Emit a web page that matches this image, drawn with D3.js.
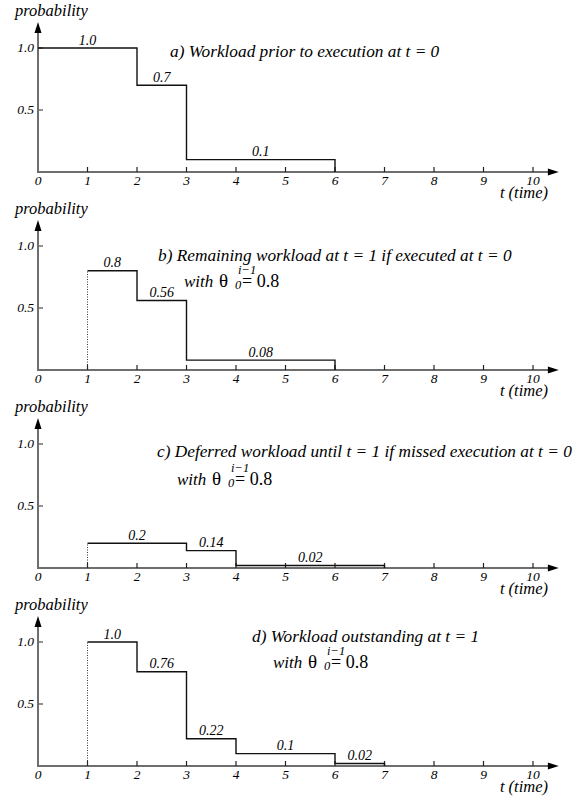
<!DOCTYPE html>
<html><head><meta charset="utf-8">
<script src="https://cdn.jsdelivr.net/npm/d3@7"></script>
<style>
html,body{margin:0;padding:0;background:#fff;}
svg text{font-family:"Liberation Serif" !important;}
</style>
</head><body>
<svg id="stepfig" width="579" height="801"></svg>
<script>
// ---- data ----
const xTicks = [0,1,2,3,4,5,6,7,8,9,10];
const xTickLabels = ["0","1","2","3","4","5","6","7","8","9","10"];
const yTicks = [0.5, 1.0];
const yTickLabels = ["0.5","1.0"];

const aStarts = [0,2,3];
const aEnds   = [2,3,6];
const aValues = [1.0,0.7,0.1];
const aLabels = ["1.0","0.7","0.1"];

const bStarts = [1,2,3];
const bEnds   = [2,3,6];
const bValues = [0.8,0.56,0.08];
const bLabels = ["0.8","0.56","0.08"];

const cStarts = [1,3,4];
const cEnds   = [3,4,7];
const cValues = [0.2,0.14,0.02];
const cLabels = ["0.2","0.14","0.02"];

const dStarts = [1,2,3,4,6];
const dEnds   = [2,3,4,6,7];
const dValues = [1.0,0.76,0.22,0.1,0.02];
const dLabels = ["1.0","0.76","0.22","0.1","0.02"];

const titles = [
  "a) Workload prior to execution at t = 0",
  "b) Remaining workload at t = 1 if executed at t = 0",
  "c) Deferred workload until t = 1 if missed execution at t = 0",
  "d) Workload outstanding at t = 1"
];
const theta = 0.8;

// ---- layout ----
const FONT = "Liberation Serif";
const panels = [
  {starts:aStarts, ends:aEnds, values:aValues, labels:aLabels, title:titles[0], tx:170, ty:9,  wx:null, wy:null, dotted:false},
  {starts:bStarts, ends:bEnds, values:bValues, labels:bLabels, title:titles[1], tx:158, ty:15, wx:184, wy:41, dotted:true},
  {starts:cStarts, ends:cEnds, values:cValues, labels:cLabels, title:titles[2], tx:157, ty:13, wx:177, wy:41, dotted:true},
  {starts:dStarts, ends:dEnds, values:dValues, labels:dLabels, title:titles[3], tx:252, ty:0,  wx:273, wy:26, dotted:true}
];

const svg = d3.select("#stepfig");
const x = d3.scaleLinear().domain([0,10]).range([38,533]);
const y = d3.scaleLinear().domain([0,1]).range([124,0]);
const axisColor = "#6e6e6e";

function txt(sel, size, italic) {
  return sel.append("text")
    .attr("font-family", FONT)
    .attr("font-size", size)
    .attr("font-style", italic ? "italic" : "normal")
    .attr("style", `font-family:'${FONT}' !important;font-size:${size}px;font-style:${italic ? "italic" : "normal"}`)
    .attr("fill", "#000");
}

panels.forEach((p,i) => {
  const g = svg.append("g").attr("transform", `translate(0,${48+198*i})`);

  // x axis line with arrow
  g.append("line").attr("x1", x(0)).attr("x2", x(10.35)).attr("y1", y(0)).attr("y2", y(0))
    .attr("stroke", axisColor).attr("stroke-width", 2);
  g.append("path").attr("d", `M${x(10.3)},${y(0)-3.5} L${x(10.52)},${y(0)} L${x(10.3)},${y(0)+3.5} Z`)
    .attr("fill", "#000");
  // y axis line with arrow
  g.append("line").attr("x1", x(0)).attr("x2", x(0)).attr("y1", y(0)+1).attr("y2", y(1.13))
    .attr("stroke", axisColor).attr("stroke-width", 2);
  g.append("path").attr("d", `M${x(0)-3.5},${y(1.12)} L${x(0)},${y(1.21)} L${x(0)+3.5},${y(1.12)} Z`)
    .attr("fill", "#000");

  // x ticks
  g.selectAll(".xt").data(xTicks.filter(d => d > 0)).enter().append("line")
    .attr("x1", d => x(d)).attr("x2", d => x(d)).attr("y1", y(0)).attr("y2", y(0)-5)
    .attr("stroke", "#222").attr("stroke-width", 1.2);
  xTicks.forEach((d,j) => {
    txt(g, 13.5, true).attr("x", x(d)).attr("y", y(0)+13).attr("text-anchor","middle").text(xTickLabels[j]);
  });
  txt(g, 16.5, true).attr("x", 548).attr("y", y(0)+25.5).attr("text-anchor","end").text("t (time)");

  // y ticks
  g.selectAll(".yt").data(yTicks).enter().append("line")
    .attr("x1", x(0)).attr("x2", x(0)+5).attr("y1", d => y(d)).attr("y2", d => y(d))
    .attr("stroke", axisColor).attr("stroke-width", 1.5);
  yTicks.forEach((d,j) => {
    txt(g, 13.5, true).attr("x", 34).attr("y", y(d)+4).attr("text-anchor","end").text(yTickLabels[j]);
  });
  txt(g, 16.5, true).attr("x", 15).attr("y", -32).text("probability");

  // dotted lead line
  if (p.dotted) {
    g.append("line").attr("x1", x(p.starts[0])).attr("x2", x(p.starts[0]))
      .attr("y1", y(0)).attr("y2", y(p.values[0]))
      .attr("stroke", "#333").attr("stroke-width", 1).attr("stroke-dasharray", "1,1.5");
  }

  // step path
  const pts = [];
  p.starts.forEach((s,j) => {
    pts.push([x(s), y(p.values[j])]);
    pts.push([x(p.ends[j]), y(p.values[j])]);
  });
  pts.push([x(p.ends[p.ends.length-1]), y(0)]);
  g.append("path").attr("d", d3.line()(pts)).attr("fill","none")
    .attr("stroke", "#111").attr("stroke-width", 1.4);

  // step labels
  p.values.forEach((v,j) => {
    txt(g, 14, true).attr("x", x((p.starts[j]+p.ends[j])/2)).attr("y", y(v)-3.5)
      .attr("text-anchor","middle").text(p.labels[j]);
  });

  // title
  txt(g, 17.3, true).attr("x", p.tx).attr("y", p.ty).text(p.title);

  // with theta
  if (p.wx !== null) {
    const w = g.append("g").attr("transform", `translate(${p.wx},${p.wy})`);
    txt(w, 17, true).attr("x",0).attr("y",0).text("with");
    txt(w, 19, false).attr("x",35).attr("y",0).text("\u03B8");
    txt(w, 12.5, true).attr("x",51).attr("y",2).text("0");
    txt(w, 12.5, true).attr("x",54).attr("y",-13).text("i\u22121");
    txt(w, 18, false).attr("x",58).attr("y",0).text("= " + theta.toFixed(1));
  }
});
</script>
</body></html>
